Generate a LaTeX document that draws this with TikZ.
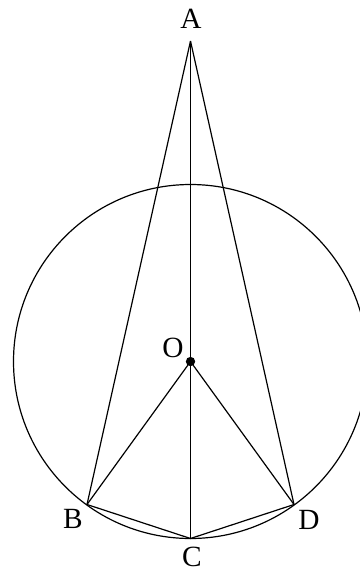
\documentclass[tikz,border=0pt]{standalone}
\usepackage{fontspec}
\setmainfont{Liberation Serif}
\usetikzlibrary{calc}
\def\rad{132.75pt}
\begin{document}
\begin{tikzpicture}[
  x=0.75pt, y=-0.75pt,
  edge/.style = {line width=0.9pt},
  ptlbl/.style = {font=\fontsize{22}{26}\selectfont, inner sep=0pt},
  dot/.style = {circle, fill=black, inner sep=0pt, minimum size=7pt},
]
\useasboundingbox (0,0) rectangle (360,571);
\clip (0,0) rectangle (360,571);

% ---------- points ----------
\coordinate (O) at (190.5,361.5);
\coordinate (A) at (190.5,41);
\coordinate (B) at (87,504.5);
\coordinate (C) at (190.5,538.5);
\coordinate (D) at (294,504.5);

% ---------- circle and segments ----------
\draw[edge] (O) circle[radius=\rad];
\draw[edge] (A) -- (B);
\draw[edge] (A) -- (D);
\draw[edge] (A) -- (C);
\draw[edge] (O) -- (B);
\draw[edge] (O) -- (D);
\draw[edge] (B) -- (C) -- (D);
\node[dot] (Odot) at (O) {};

% ---------- labels ----------
\node[ptlbl] (lA) at (191,19) {A};
\node[ptlbl] (lO) at (173,348) {O};
\node[ptlbl] (lB) at (73,519) {B};
\node[ptlbl] (lC) at (192,557) {C};
\node[ptlbl] (lD) at (309,520) {D};
\end{tikzpicture}
\end{document}
